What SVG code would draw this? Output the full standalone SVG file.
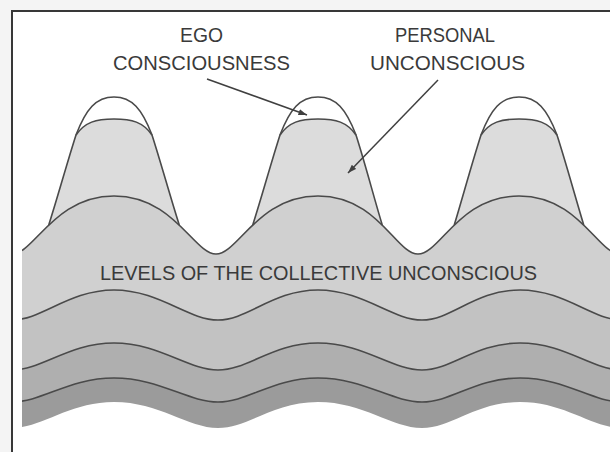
<svg xmlns="http://www.w3.org/2000/svg" width="610" height="452" viewBox="0 0 610 452">
  <style>
    .ln { fill: none; stroke: #4a4a4a; stroke-width: 1.6; stroke-linejoin: round; }
    .lbl { font-family: "Liberation Sans", Arial, sans-serif; font-size: 20px; fill: #3a3a3a; }
    .arrow { fill: none; stroke: #404040; stroke-width: 1.5; marker-end: url(#ah); }
    .cap { fill: #ffffff; }
    .bell { fill: #dcdcdc; }
  </style>
  <defs>
    <marker id="ah" viewBox="0 0 10 7" refX="10" refY="3.5" markerWidth="9" markerHeight="6" markerUnits="userSpaceOnUse" orient="auto">
      <path d="M0,0 L10,3.5 L0,7 Z" fill="#404040"/>
    </marker>
    <clipPath id="clip">
      <rect x="22" y="0" width="588" height="452"/>
    </clipPath>
  </defs>

  <rect x="0" y="0" width="610" height="452" fill="#f4f4f4"/>
  <rect x="12" y="11" width="600" height="445" fill="#ffffff"/>

  <g id="strata" clip-path="url(#clip)">
    <!-- personal unconscious bells (fill) -->
    <path class="bell" d="M 48.75,225 C 58,196 67,163 76,135 C 86,109 96,97 114,97 C 132,97 142,109 152,135 C 161,163 170,196 179.25,225 Z"/>
    <path class="bell" d="M 252.75,225 C 262,196 271,163 280,135 C 290,109 300,97 318,97 C 336,97 346,109 356,135 C 365,163 373.5,196 382.25,225 Z"/>
    <path class="bell" d="M 454.25,225 C 463,196 472,163 481,135 C 491,109 501,97 519,97 C 537,97 547,109 557,135 C 566,163 575,196 583.75,225 Z"/>
    <!-- collective layers -->
    <path fill="#d0d0d0" d="M 12,254 C 34,254 54,196 114,196 C 174,196 194,254 216,254 C 238,254 258,196 318,196 C 378,196 396,254 418,254 C 440,254 459,196 519,196 C 579,196 598,254 620,254 L 620,452 L 12,452 Z"/>
    <path fill="#c2c2c2" d="M 12,320 C 42,320 69,290 114,290 C 159,290 188,320 218,320 C 248,320 273,290 318,290 C 363,290 392,320 422,320 C 452,320 475,290 520,290 C 565,290 592,320 622,320 L 622,452 L 12,452 Z"/>
    <path fill="#afafaf" d="M 12,370 C 42,370 69,343 114,343 C 159,343 188,370 218,370 C 248,370 273,343 318,343 C 363,343 392,370 422,370 C 452,370 475,343 520,343 C 565,343 592,370 622,370 L 622,452 L 12,452 Z"/>
    <path fill="#9b9b9b" d="M 12,402 C 42,402 69,378 114,378 C 159,378 188,402 218,402 C 248,402 273,378 318,378 C 363,378 392,402 422,402 C 452,402 475,378 520,378 C 565,378 592,402 622,402 L 622,452 L 12,452 Z"/>
    <path fill="#ffffff" d="M 12,428 C 42,428 69,402 114,402 C 159,402 188,428 218,428 C 248,428 273,402 318,402 C 363,402 392,428 422,428 C 452,428 475,402 520,402 C 565,402 592,428 622,428 L 622,460 L 12,460 Z"/>
    <!-- ego consciousness caps -->
    <path class="cap" d="M 76,135 C 86,109 96,97 114,97 C 132,97 142,109 152,135 C 143,122 132,119 114,119 C 96,119 85,122 76,135 Z"/>
    <path class="cap" d="M 280,135 C 290,109 300,97 318,97 C 336,97 346,109 356,135 C 347,122 336,119 318,119 C 300,119 289,122 280,135 Z"/>
    <path class="cap" d="M 481,135 C 491,109 501,97 519,97 C 537,97 547,109 557,135 C 548,122 537,119 519,119 C 501,119 490,122 481,135 Z"/>
    <!-- outlines -->
    <path class="ln" d="M 12,254 C 34,254 54,196 114,196 C 174,196 194,254 216,254 C 238,254 258,196 318,196 C 378,196 396,254 418,254 C 440,254 459,196 519,196 C 579,196 598,254 620,254"/>
    <path class="ln" d="M 12,320 C 42,320 69,290 114,290 C 159,290 188,320 218,320 C 248,320 273,290 318,290 C 363,290 392,320 422,320 C 452,320 475,290 520,290 C 565,290 592,320 622,320"/>
    <path class="ln" d="M 12,370 C 42,370 69,343 114,343 C 159,343 188,370 218,370 C 248,370 273,343 318,343 C 363,343 392,370 422,370 C 452,370 475,343 520,343 C 565,343 592,370 622,370"/>
    <path class="ln" d="M 12,402 C 42,402 69,378 114,378 C 159,378 188,402 218,402 C 248,402 273,378 318,378 C 363,378 392,402 422,402 C 452,402 475,378 520,378 C 565,378 592,402 622,402"/>
    <path class="ln" d="M 48.75,225 C 58,196 67,163 76,135 C 86,109 96,97 114,97 C 132,97 142,109 152,135 C 161,163 170,196 179.25,225"/>
    <path class="ln" d="M 252.75,225 C 262,196 271,163 280,135 C 290,109 300,97 318,97 C 336,97 346,109 356,135 C 365,163 373.5,196 382.25,225"/>
    <path class="ln" d="M 454.25,225 C 463,196 472,163 481,135 C 491,109 501,97 519,97 C 537,97 547,109 557,135 C 566,163 575,196 583.75,225"/>
    <path class="ln" d="M 76,135 C 85,122 96,119 114,119 C 132,119 143,122 152,135"/>
    <path class="ln" d="M 280,135 C 289,122 300,119 318,119 C 336,119 347,122 356,135"/>
    <path class="ln" d="M 481,135 C 490,122 501,119 519,119 C 537,119 548,122 557,135"/>
  </g>

  <g id="frame">
    <path d="M 12,452 L 12,11 L 610,11" fill="none" stroke="#383838" stroke-width="2"/>
  </g>

  <g id="ego-consciousness">
    <text class="lbl" x="180" y="42" textLength="43" lengthAdjust="spacingAndGlyphs">EGO</text>
    <text class="lbl" x="113" y="70" textLength="177" lengthAdjust="spacingAndGlyphs">CONSCIOUSNESS</text>
  </g>
  <g id="personal-unconscious">
    <text class="lbl" x="395" y="42" textLength="100" lengthAdjust="spacingAndGlyphs">PERSONAL</text>
    <text class="lbl" x="370" y="70" textLength="155" lengthAdjust="spacingAndGlyphs">UNCONSCIOUS</text>
  </g>
  <g id="collective-unconscious">
    <text class="lbl" x="100" y="280" textLength="437" lengthAdjust="spacingAndGlyphs">LEVELS OF THE COLLECTIVE UNCONSCIOUS</text>
  </g>

  <g id="connectors">
    <line class="arrow" x1="207" y1="79" x2="307" y2="115"/>
    <line class="arrow" x1="438" y1="80" x2="348" y2="173"/>
  </g>
</svg>
